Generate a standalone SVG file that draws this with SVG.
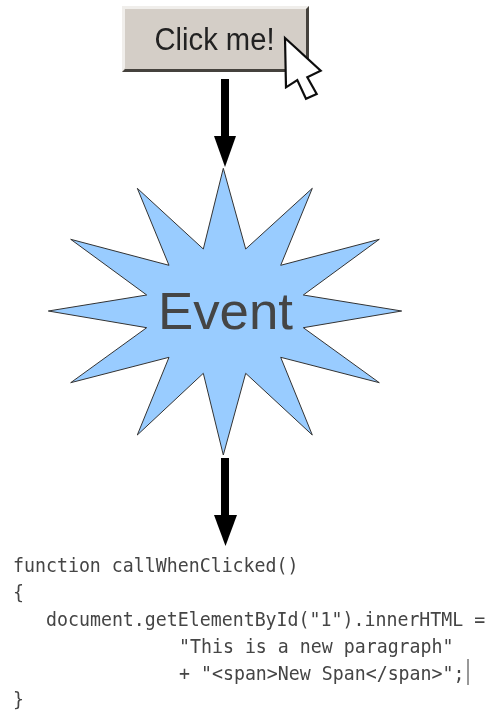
<svg xmlns="http://www.w3.org/2000/svg" width="488" height="713" viewBox="0 0 488 713">
<style>
.code{font-family:"DejaVu Sans Mono","Liberation Mono",monospace;font-size:18.25px;fill:#444;white-space:pre}
</style>
<defs>
<filter id="soft" x="-5%" y="-5%" width="110%" height="110%"><feGaussianBlur stdDeviation="0.55"/></filter>
</defs>
<rect width="488" height="713" fill="#fff"/>
<g filter="url(#soft)">
<g id="connectors">
<rect x="221" y="79" width="8" height="58" fill="#000"/>
<polygon points="214,136 236,136 225,167" fill="#000"/>
<rect x="221" y="458" width="8" height="58" fill="#000"/>
<polygon points="214,515 237,515 225.500,546" fill="#000"/>
</g>
<g id="button">
<rect x="122" y="6" width="187" height="66" fill="#d4cec7"/>
<polygon points="122,6 309,6 306,9 125,9 125,68 122,72" fill="#f0eeeb"/>
<polygon points="309,6 309,72 122,72 125,69 306,69 306,9" fill="#45423c"/>
<text x="154.500" y="49.500" textLength="120" lengthAdjust="spacingAndGlyphs" font-family="'Liberation Sans',Arial,sans-serif" font-size="31" fill="#222">Click me!</text>
</g>
<g id="cursor">
<polygon points="285,38 320.700,70.700 307.300,77.300 316.700,94 306,98.700 297.300,80 286,87.300" fill="#fff" stroke="#111" stroke-width="2.200" stroke-linejoin="miter"/>
</g>
<g id="event">
<polygon points="223.300,168.300 245.700,249 312.300,188.300 280.700,265.300 379.300,239.300 303.300,295 401.700,311 303.300,327.700 379.300,382.700 280.700,357.300 312.300,435 245.700,373.300 223.300,455 203.300,373.300 137.300,435 169,357.300 70.700,382.700 146.700,327.700 48.300,311 146.700,295 70.700,239.300 169,265.300 137.300,188.300 203.300,249" fill="#99ccff" stroke="#333" stroke-width="1"/>
<text x="158" y="329" textLength="135" lengthAdjust="spacingAndGlyphs" font-family="'Liberation Sans',Arial,sans-serif" font-size="52" fill="#444">Event</text>
</g>
<g id="code">
<text class="code" transform="translate(13,572) scale(1,1.09)">function callWhenClicked()</text>
<text class="code" transform="translate(13,599) scale(1,1.09)">{</text>
<text class="code" transform="translate(46,626) scale(1,1.09)">document.getElementById("1").innerHTML =</text>
<text class="code" transform="translate(179,653) scale(1,1.09)">"This is a new paragraph"</text>
<text class="code" transform="translate(179,680) scale(1,1.09)">+ "&lt;span&gt;New Span&lt;/span&gt;";</text>
<line x1="468" y1="659" x2="468" y2="685" stroke="#333" stroke-width="1"/>
<text class="code" transform="translate(13,706) scale(1,1.09)">}</text>
</g>
</g>
</svg>
